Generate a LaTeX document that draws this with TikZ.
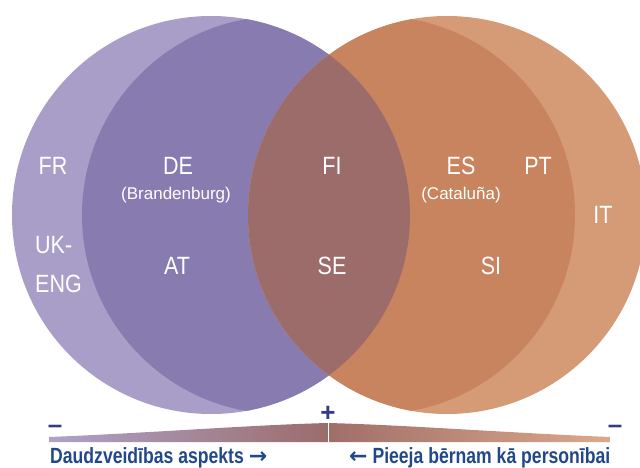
\documentclass[tikz,border=0pt]{standalone}
\usepackage{fontspec}
\setmainfont{Liberation Sans}
\newfontfamily\cntfont[FakeStretch=0.86]{Liberation Sans}
\newfontfamily\axfont[FakeStretch=0.8]{Liberation Sans}
\newfontfamily\arfont{DejaVu Sans}

\definecolor{lav}{HTML}{A99EC7}
\definecolor{pur}{HTML}{877BB0}
\definecolor{mauve}{HTML}{9C6C6B}
\definecolor{dkor}{HTML}{C8845E}
\definecolor{ltor}{HTML}{D59A76}
\definecolor{navy}{HTML}{343A87}
\definecolor{axblue}{HTML}{21488A}

\newcommand{\rarr}{{\arfont\bfseries →}}
\newcommand{\larr}{{\arfont\bfseries ←}}

\tikzset{
	cnt/.style={text=white,inner sep=0pt,anchor=base,font=\cntfont\fontsize{25}{25}\selectfont},
	reg/.style={text=white,inner sep=0pt,anchor=base,font=\fontsize{17}{17}\selectfont},
	sgn/.style={text=navy,inner sep=0pt,anchor=base,font=\bfseries\fontsize{26}{26}\selectfont},
	axlab/.style={text=axblue,inner sep=0pt,anchor=base west,font=\axfont\bfseries\fontsize{22}{22}\selectfont}
}

\begin{document}
\begin{tikzpicture}[x=1pt,y=-1pt]
			\useasboundingbox (0,0) rectangle (640,468);
			
			% circles
			\fill[lav] (211,215) circle[radius=199];
			\begin{scope}
				\clip (211,215) circle[radius=199];
				\fill[pur] (281,215) circle[radius=199];
			\end{scope}
			\fill[ltor] (447,215) circle[radius=199];
			\begin{scope}
				\clip (447,215) circle[radius=199];
				\fill[dkor] (376,215) circle[radius=199];
				\clip (211,215) circle[radius=199];
				\fill[mauve] (447,215) circle[radius=199];
			\end{scope}
			
			\node[cnt] (fr) at (53,175) {FR};
			\node[cnt] (de) at (178,175) {DE};
			\node[reg] (bb) at (176,200) {(Brandenburg)};
			\node[cnt] (fi) at (332,175) {FI};
			\node[cnt] (es) at (461,175) {ES};
			\node[reg] (cat) at (461,200) {(Cataluña)};
			\node[cnt] (pt) at (538,175) {PT};
			\node[cnt] (it) at (603,223) {IT};
			\node[cnt,anchor=base west] (uk) at (35,253) {UK-};
			\node[cnt,anchor=base west] (eng) at (35,292) {ENG};
			\node[cnt] (at) at (177,274) {AT};
			\node[cnt] (se) at (332,274) {SE};
			\node[cnt] (si) at (491,274) {SI};
			
			% scale
			\shade[left color=lav!95!white,middle color=pur,right color=mauve]
				(49,442) -- (49,437) .. controls (150,433) and (250,425) .. (328,423) -- (328,442) -- cycle;
			\shade[left color=mauve!90!dkor,middle color=dkor,right color=ltor!85!white]
				(328,442) -- (328,423) .. controls (406,425) and (510,433) .. (610,437) -- (610,442) -- cycle;
			\draw[white,line width=1pt] (328,423) -- (328,442);
			
			\node[sgn] (lo1) at (55,433) {–};
			\node[sgn] (hi) at (328,421) {+};
			\node[sgn] (lo2) at (615,433) {–};
			
			\node[axlab] (ax1) at (50,463) {Daudzveidības aspekts \rarr};
			\node[axlab] (ax2) at (349,463) {\larr{} Pieeja bērnam kā personībai};
		\end{tikzpicture}
\end{document}
